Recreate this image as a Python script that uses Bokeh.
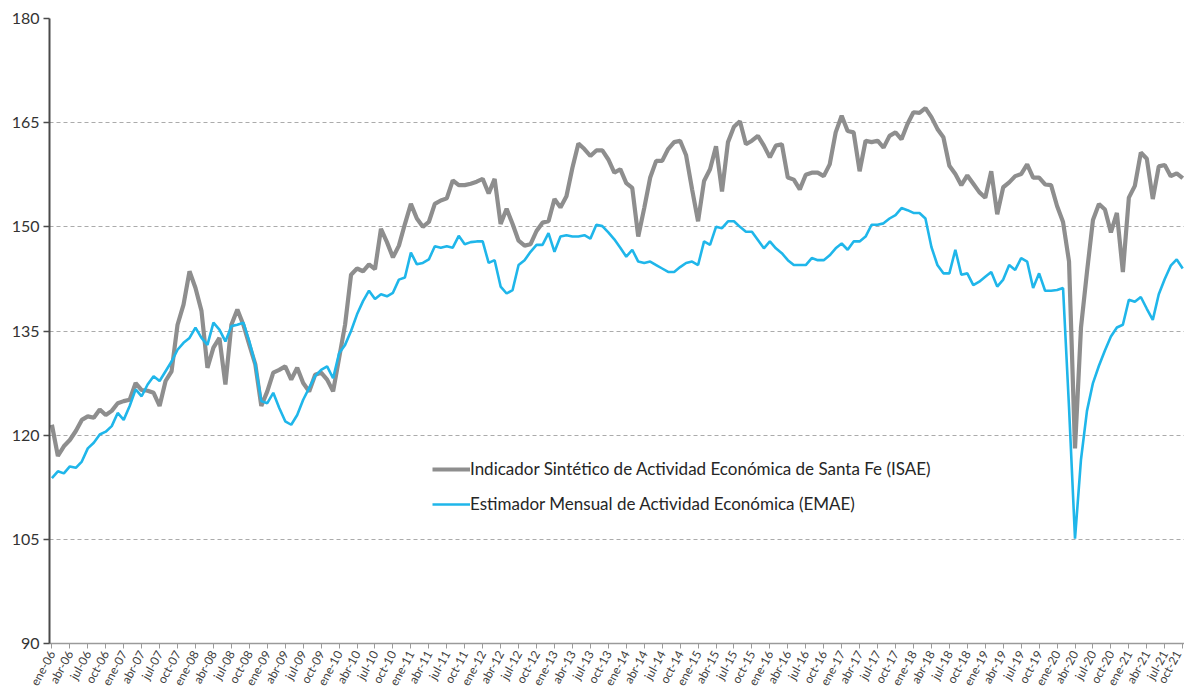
import math
from bokeh.plotting import figure
from bokeh.models import FixedTicker, Legend, LegendItem, ColumnDataSource, Range1d
from bokeh.embed import file_html
from bokeh.resources import INLINE

# ISAE (Santa Fe) monthly, ene-06 .. oct-21
isae = [
    121.5, 117.0, 118.4, 119.3, 120.6, 122.2, 122.7, 122.5, 123.7, 122.9, 123.5, 124.6,
    124.9, 125.1, 127.5, 126.5, 126.4, 126.1, 124.2, 127.8, 129.2, 135.9, 138.8, 143.6,
    141.2, 137.9, 129.7, 132.6, 134.0, 127.3, 135.9, 138.1, 135.9, 133.0, 130.2, 124.2,
    126.3, 129.0, 129.4, 129.9, 128.0, 129.7, 127.5, 126.3, 128.7, 129.0, 128.0, 126.3,
    131.1, 135.9, 143.1, 144.0, 143.6, 144.6, 143.9, 149.7, 147.8, 145.6, 147.3, 150.4,
    153.3, 151.2, 150.0, 150.7, 153.3, 153.8, 154.1, 156.7, 156.0, 156.0, 156.2, 156.5,
    156.9, 154.8, 156.9, 150.4, 152.6, 150.4, 148.0, 147.3, 147.5, 149.4, 150.6, 150.8,
    154.0, 152.8, 154.4, 158.5, 162.0, 161.2, 160.2, 161.0, 161.0, 159.7, 157.8, 158.3,
    156.3, 155.6, 148.6, 152.7, 157.1, 159.5, 159.5, 161.2, 162.2, 162.4, 160.3, 155.4,
    150.8, 156.6, 158.3, 161.6, 155.1, 162.2, 164.4, 165.2, 161.9, 162.4, 163.1, 161.7,
    160.0, 161.7, 161.9, 157.1, 156.8, 155.4, 157.5, 157.8, 157.8, 157.3, 159.0, 163.6,
    166.0, 163.8, 163.6, 158.0, 162.4, 162.2, 162.4, 161.4, 163.1, 163.6, 162.6, 164.8,
    166.5, 166.4, 167.1, 165.8, 164.1, 162.9, 158.8, 157.6, 156.0, 157.4, 156.2, 155.0,
    154.2, 158.0, 151.8, 155.7, 156.4, 157.3, 157.6, 159.0, 157.1, 157.1, 156.1, 156.0,
    153.0, 150.7, 145.0, 118.1, 135.5, 143.5, 151.0, 153.3, 152.5, 149.2, 152.0, 143.5,
    154.2, 155.9, 160.7, 159.8, 154.0, 158.7, 158.9, 157.3, 157.7, 157.0,
]

# EMAE (national) monthly, ene-06 .. oct-21
emae = [
    113.8, 114.8, 114.5, 115.5, 115.3, 116.2, 118.1, 118.9, 120.1, 120.5, 121.3, 123.2,
    122.2, 124.2, 126.6, 125.6, 127.3, 128.5, 127.8, 129.2, 130.6, 132.3, 133.3, 134.0,
    135.5, 134.0, 133.0, 136.2, 135.2, 133.5, 135.7, 135.9, 136.2, 133.5, 130.2, 124.9,
    124.6, 126.1, 123.9, 122.0, 121.5, 122.9, 125.1, 126.8, 128.5, 129.4, 129.9, 128.2,
    131.8, 133.0, 135.0, 137.4, 139.3, 140.8, 139.6, 140.3, 140.0, 140.5, 142.4, 142.7,
    146.3, 144.6, 144.8, 145.3, 147.2, 147.0, 147.2, 147.0, 148.7, 147.5, 147.8, 147.9,
    147.9, 144.8, 145.2, 141.4, 140.4, 140.9, 144.5, 145.2, 146.4, 147.4, 147.4, 149.1,
    146.4, 148.6, 148.8, 148.6, 148.6, 148.8, 148.3, 150.3, 150.1, 149.2, 148.2, 147.0,
    145.7, 146.7, 145.0, 144.8, 145.0, 144.5, 144.0, 143.5, 143.5, 144.2, 144.8, 145.0,
    144.5, 147.9, 147.4, 150.0, 149.8, 150.8, 150.8, 150.0, 149.3, 149.3, 148.1, 146.9,
    147.9, 146.9, 146.2, 145.2, 144.5, 144.5, 144.5, 145.5, 145.2, 145.2, 145.9, 146.9,
    147.6, 146.7, 147.9, 147.9, 148.6, 150.3, 150.3, 150.5, 151.2, 151.7, 152.7, 152.4,
    152.0, 152.0, 151.2, 147.1, 144.5, 143.3, 143.3, 146.7, 143.1, 143.3, 141.6, 142.1,
    142.8, 143.5, 141.4, 142.4, 144.5, 143.8, 145.5, 145.0, 141.2, 143.3, 140.8, 140.8,
    140.9, 141.2, 124.0, 105.1, 116.5, 123.5, 127.5, 130.0, 132.2, 134.2, 135.5, 135.9,
    139.5, 139.2, 139.9, 138.2, 136.6, 140.3, 142.5, 144.4, 145.3, 144.0,
]

month_names = ["ene", "abr", "jul", "oct"]
years = list(range(2006, 2022))
tick_labels = [f"{m}-{y % 100:02d}" for y in years for m in month_names]

y_ticks = [90, 105, 120, 135, 150, 165, 180]

label_isae = "Indicador Sintético de Actividad Económica de Santa Fe (ISAE)"
label_emae = "Estimador Mensual de Actividad Económica (EMAE)"

GRAY = "#8e8e8e"
BLUE = "#1fb6ea"
FONT = "Lato"

n = len(isae)
x = list(range(n))
src = ColumnDataSource(data=dict(x=x, isae=isae, emae=emae))

p = figure(
    width=1184, height=694,
    output_backend="svg", toolbar_location=None,
    x_range=Range1d(-0.4, n - 1 + 0.3),
    y_range=Range1d(90, 180),
    min_border_left=49, min_border_right=0, min_border_top=18, min_border_bottom=49,
)
p.outline_line_color = None
p.background_fill_color = "white"
p.border_fill_color = "white"

r1 = p.line("x", "isae", source=src, line_color=GRAY, line_width=4.2)
r2 = p.line("x", "emae", source=src, line_color=BLUE, line_width=2.6)

# x axis
tick_pos = list(range(0, n, 3))
p.xaxis.ticker = FixedTicker(ticks=tick_pos)
p.xaxis.major_label_overrides = {i: lab for i, lab in zip(tick_pos, tick_labels)}
p.xaxis.major_label_orientation = 1.07
p.xaxis.major_label_text_font = FONT
p.xaxis.major_label_text_font_size = "12px"
p.xaxis.major_label_text_color = "#404040"
p.xaxis.axis_line_color = "#9a9a9a"
p.xaxis.axis_line_width = 1.5
p.xaxis.major_tick_line_color = "#9a9a9a"
p.xaxis.major_tick_out = 5
p.xaxis.major_tick_in = 0
p.xaxis.minor_tick_line_color = None
p.xaxis.major_label_standoff = 3
p.xgrid.grid_line_color = None

# y axis
p.yaxis.ticker = FixedTicker(ticks=y_ticks)
p.yaxis.major_label_text_font = FONT
p.yaxis.major_label_text_font_size = "16px"
p.yaxis.major_label_text_color = "#333333"
p.yaxis.axis_line_color = "#4a4a4a"
p.yaxis.axis_line_width = 2
p.yaxis.major_tick_line_color = "#4a4a4a"
p.yaxis.major_tick_line_width = 1.5
p.yaxis.major_tick_out = 6
p.yaxis.major_tick_in = 0
p.yaxis.minor_tick_line_color = None
p.yaxis.major_label_standoff = 4
p.ygrid.grid_line_color = "#ababab"
p.ygrid.grid_line_dash = "4 3"
p.ygrid.grid_line_width = 1

legend = Legend(
    items=[LegendItem(label=label_isae, renderers=[r1]),
           LegendItem(label=label_emae, renderers=[r2])],
    location=(383, 129),
    orientation="vertical",
    label_text_font=FONT,
    label_text_font_size="17px",
    label_text_color="#262626",
    glyph_width=38, glyph_height=20,
    label_height=20, label_standoff=0,
    spacing=14, padding=0, margin=0,
    border_line_color=None,
    background_fill_alpha=0,
)
p.add_layout(legend, "center")

open("out.html", "w").write(file_html(p, INLINE))
